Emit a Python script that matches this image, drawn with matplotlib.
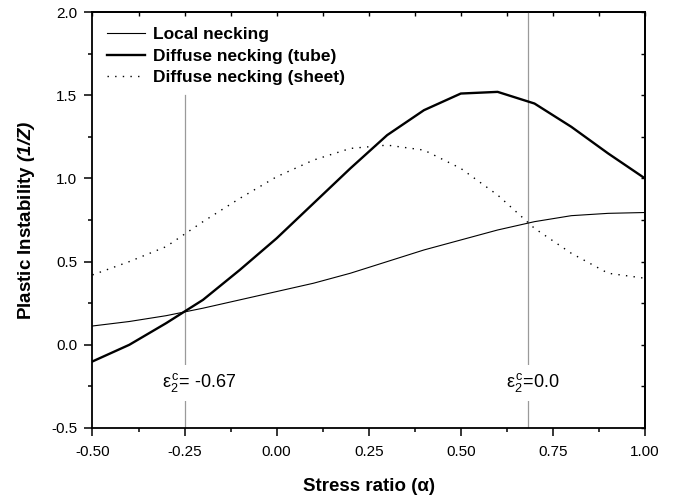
import matplotlib
matplotlib.use("Agg")
import matplotlib.pyplot as plt

plt.rcParams["font.family"] = ["Liberation Sans", "DejaVu Sans"]
plt.rcParams["mathtext.fontset"] = "custom"
plt.rcParams["mathtext.rm"] = "Liberation Sans"
plt.rcParams["mathtext.it"] = "Liberation Sans:italic"
plt.rcParams["mathtext.bf"] = "Liberation Sans:bold"
plt.rcParams["mathtext.bfit"] = "Liberation Sans:italic:bold"

# Stress ratio samples
alpha = [-0.5, -0.4, -0.3, -0.2, -0.1, 0.0, 0.1, 0.2, 0.3, 0.4, 0.5, 0.6, 0.7, 0.8, 0.9, 1.0]

# Plastic instability (1/Z) for each criterion
local_necking = [0.113, 0.14, 0.175, 0.22, 0.27, 0.32, 0.37, 0.43, 0.50, 0.57, 0.63, 0.69, 0.74, 0.776, 0.79, 0.795]
diffuse_tube = [-0.10, 0.00, 0.13, 0.27, 0.45, 0.64, 0.85, 1.06, 1.26, 1.41, 1.51, 1.52, 1.45, 1.31, 1.15, 1.00]
diffuse_sheet = [0.42, 0.50, 0.59, 0.74, 0.88, 1.01, 1.11, 1.18, 1.20, 1.17, 1.06, 0.90, 0.70, 0.55, 0.43, 0.40]

series_labels = ["Local necking", "Diffuse necking (tube)", "Diffuse necking (sheet)"]

# Critical strain markers
crit_alpha = [-0.25, 0.683]
crit_top = [1.5, 2.0]
crit_labels = [r"$\mathrm{\varepsilon}_{2}^{\,\mathrm{c}}$= -0.67", r"$\mathrm{\varepsilon}_{2}^{\,\mathrm{c}}$=0.0"]

x_ticks = [-0.5, -0.25, 0.0, 0.25, 0.5, 0.75, 1.0]
y_ticks = [-0.5, 0.0, 0.5, 1.0, 1.5, 2.0]

fig = plt.figure(figsize=(6.76, 4.96), dpi=100)
ax = fig.add_axes([0.1368, 0.1371, 0.9541 - 0.1368, 0.9758 - 0.1371])

ax.set_xlim(-0.5, 1.0)
ax.set_ylim(-0.5, 2.0)

for a, top in zip(crit_alpha, crit_top):
    ax.plot([a, a], [-0.5, top], color="#9a9a9a", lw=0.9, zorder=1)

ax.plot(alpha, local_necking, color="black", lw=0.8, label=series_labels[0], zorder=3)
ax.plot(alpha, diffuse_tube, color="black", lw=1.7, label=series_labels[1], zorder=3)
ax.plot(alpha, diffuse_sheet, color="black", lw=1.0, linestyle=(0, (1, 4.5)),
        label=series_labels[2], zorder=3)

text_x = [-0.311, 0.623]
for tx, lab in zip(text_x, crit_labels):
    ax.text(tx, -0.255, lab, fontsize=13, ha="left", va="baseline", zorder=2,
            bbox=dict(boxstyle="square,pad=0.35", facecolor="white", edgecolor="none"))

leg = ax.legend(loc="upper left", frameon=True, facecolor="white", edgecolor="none",
                framealpha=1, fancybox=False, borderaxespad=0.4, borderpad=0.45,
                handlelength=2.2, handletextpad=0.45, labelspacing=0.38,
                prop={"weight": "bold", "size": 12.5})
leg.set_zorder(5)

# Ticks: outward on left/bottom, inward on top/right
ax.set_xticks(x_ticks)
ax.set_xticklabels([f"{v:.2f}" for v in x_ticks])
ax.set_yticks(y_ticks)
ax.set_yticklabels([f"{v:.1f}" for v in y_ticks])
minor_x = [v + 0.125 for v in x_ticks[:-1]]
minor_y = [v + 0.25 for v in y_ticks[:-1]]
ax.set_xticks(minor_x, minor=True)
ax.set_yticks(minor_y, minor=True)
ax.tick_params(which="major", direction="out", length=6, width=1.1, labelsize=11, pad=5)
ax.tick_params(which="minor", direction="out", length=3, width=1.1)
ax.tick_params(axis="x", pad=6)

top = ax.secondary_xaxis("top")
top.set_xticks(x_ticks)
top.set_xticks(minor_x, minor=True)
top.tick_params(which="both", direction="in", length=3, width=1.0, labeltop=False)
right = ax.secondary_yaxis("right")
right.set_yticks(y_ticks)
right.set_yticks(minor_y, minor=True)
right.tick_params(which="both", direction="in", length=3, width=1.0, labelright=False)

for s in list(ax.spines.values()) + [top.spines["top"], right.spines["right"]]:
    s.set_linewidth(1.3)

ax.set_xlabel("Stress ratio (α)", fontsize=13.5, fontweight="bold", labelpad=14)
ax.set_ylabel(r"Plastic Instability $\mathbfit{(1/Z)}$", fontsize=13.5, fontweight="bold", labelpad=10)

fig.savefig("out.png", dpi=100)
